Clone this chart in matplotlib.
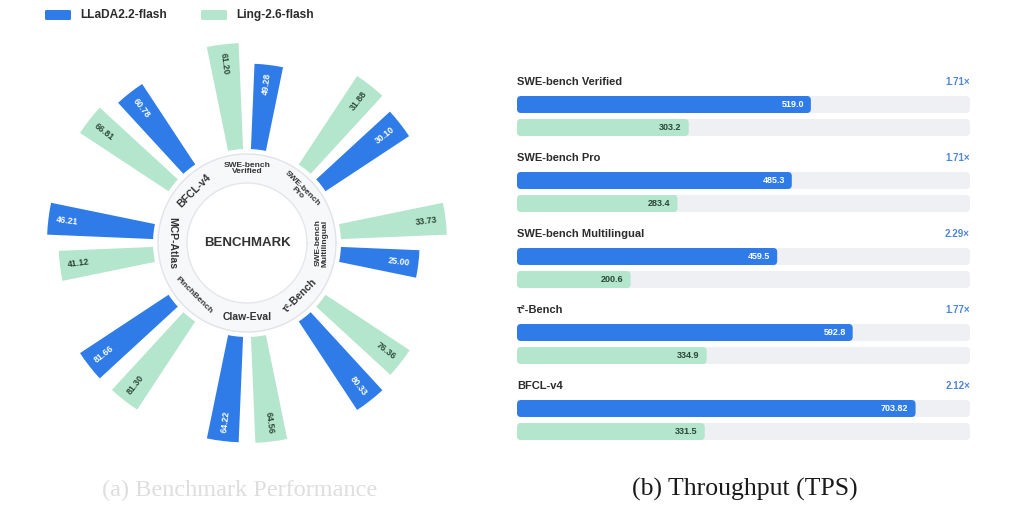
import numpy as np
import matplotlib
matplotlib.use('Agg')
import matplotlib.pyplot as plt
from matplotlib.patches import FancyBboxPatch

plt.rcParams['font.family'] = ['Liberation Sans', 'DejaVu Sans']

# ---------------- data ----------------
series_names = ['LLaDA2.2-flash', 'Ling-2.6-flash']

radar_benchmarks = ['SWE-bench\nVerified', 'SWE-bench\nPro', 'SWE-bench\nMultilingual',
                    'τ²-Bench', 'Claw-Eval', 'PinchBench', 'MCP-Atlas', 'BFCL-v4']
llada_scores = [49.28, 30.10, 25.00, 80.33, 64.22, 81.66, 46.21, 60.78]
ling_scores = [61.20, 31.88, 33.73, 76.36, 64.56, 81.30, 41.12, 66.81]

tps_benchmarks = ['SWE-bench Verified', 'SWE-bench Pro', 'SWE-bench Multilingual',
                  'τ²-Bench', 'BFCL-v4']
llada_tps = [519.0, 485.3, 459.5, 592.8, 703.82]
ling_tps = [303.2, 283.4, 200.6, 334.9, 331.5]
llada_tps_labels = ['519.0', '485.3', '459.5', '592.8', '703.82']
ling_tps_labels = ['303.2', '283.4', '200.6', '334.9', '331.5']
tps_axis_max = 800

caption_a = '(a) Benchmark Performance'
caption_b = '(b) Throughput (TPS)'

# ---------------- style ----------------
BLUE = '#2f7ce8'
GREEN = '#b4e5cd'
TRACK = '#eef0f4'
DARK = '#2b2b2b'
GREEN_TXT = '#2a4536'
SPEED = '#4f86d9'

W, H = 1024, 512
fig = plt.figure(figsize=(W / 100, H / 100), dpi=100)
fig.patch.set_facecolor('white')

# ---------------- legend ----------------
for (x0, name, col) in [(45, series_names[0], BLUE), (201, series_names[1], GREEN)]:
    fig.patches.append(FancyBboxPatch((x0 / W, 1 - 20 / H), 26 / W, 10 / H,
                                      boxstyle='round,pad=0,rounding_size=0.002',
                                      transform=fig.transFigure, facecolor=col,
                                      edgecolor='none'))
    fig.text((x0 + 35) / W, 1 - 15 / H, name, fontsize=8.6, fontweight='bold',
             color=DARK, ha='left', va='center')

# ---------------- polar chart ----------------
cx, cy, R = 247, 243, 215
axp = fig.add_axes([(cx - R) / W, (H - cy - R) / H, 2 * R / W, 2 * R / H],
                   projection='polar')
axp.set_ylim(0, R)
axp.set_axis_off()

r_in, r_ring = 60, 89
tt = np.linspace(0, 2 * np.pi, 400)
axp.fill_between(tt, r_in, r_ring, color='#f7f8fa', zorder=1, lw=0)
axp.plot(tt, np.full_like(tt, r_ring), color='#e1e3e8', lw=1.0, zorder=2)
axp.plot(tt, np.full_like(tt, r_in), color='#e4e6ea', lw=1.0, zorder=2)
axp.text(0, 0, 'BENCHMARK', fontsize=9.5, fontweight='bold', color='#333333',
         ha='center', va='center', zorder=5)

n = len(radar_benchmarks)
centers_deg = 90 - 360 / n * np.arange(n)
off, wid = 7.0, 9.2
r0, Lmax = 94, 106


def norm(d):
    return ((d + 180) % 360) - 180


for i, name in enumerate(radar_benchmarks):
    c = centers_deg[i]
    m = max(llada_scores[i], ling_scores[i])
    for val, ang, col, tcol in [(ling_scores[i], c + off, GREEN, GREEN_TXT),
                                (llada_scores[i], c - off, BLUE, 'white')]:
        L = Lmax * val / m
        axp.bar(np.deg2rad(ang), L, width=np.deg2rad(wid), bottom=r0,
                color=col, edgecolor='none', zorder=3)
        d = norm(ang)
        rot = d if -90 < d <= 90 else (d - 180 if d > 90 else d + 180)
        axp.text(np.deg2rad(ang), r0 + L - 19, f'{val:.2f}', rotation=rot,
                 rotation_mode='anchor', ha='center', va='center',
                 fontsize=6.3, fontweight='bold', color=tcol, zorder=4)
    # ring label
    d = norm(c)
    rot = d - 90 if 0 < d < 180 else d + 90
    fs = 6.0 if ('\n' in name or name == 'PinchBench') else 7.5
    axp.text(np.deg2rad(c), 74.5, name, rotation=rot, rotation_mode='anchor',
             ha='center', va='center', fontsize=fs, fontweight='bold',
             color='#333333', linespacing=0.85, zorder=5)

# ---------------- horizontal bars ----------------
x_left, x_right = 517, 970
axb = fig.add_axes([x_left / W, 0, (x_right - x_left) / W, 1])
axb.set_xlim(0, tps_axis_max)
axb.set_ylim(H, 0)
axb.axis('off')
ux = tps_axis_max / (x_right - x_left)   # data units per pixel in x
bh = 17
rs = 4 * ux

for i, name in enumerate(tps_benchmarks):
    ty = 82 + 76 * i
    yb = 104.5 + 76 * i
    yg = 127.5 + 76 * i
    axb.text(0, ty, name, fontsize=8, fontweight='bold', color=DARK,
             ha='left', va='center')
    axb.text(tps_axis_max, ty, f'{llada_tps[i] / ling_tps[i]:.2f}×', fontsize=7,
             fontweight='bold', color=SPEED, ha='right', va='center')
    for yc, val, lab, col, tcol in [(yb, llada_tps[i], llada_tps_labels[i], BLUE, 'white'),
                                    (yg, ling_tps[i], ling_tps_labels[i], GREEN, GREEN_TXT)]:
        axb.add_patch(FancyBboxPatch((0, yc - bh / 2), tps_axis_max, bh,
                                     boxstyle=f'round,pad=0,rounding_size={rs}',
                                     mutation_aspect=1 / ux, facecolor=TRACK,
                                     edgecolor='none', zorder=1))
        axb.add_patch(FancyBboxPatch((0, yc - bh / 2), val, bh,
                                     boxstyle=f'round,pad=0,rounding_size={rs}',
                                     mutation_aspect=1 / ux, facecolor=col,
                                     edgecolor='none', zorder=2))
        axb.text(val - 7 * ux, yc, lab, fontsize=6.5, fontweight='bold',
                 color=tcol, ha='right', va='center', zorder=3)

# ---------------- captions ----------------
fig.text(240 / W, 1 - 490 / H, caption_a, family=['Liberation Serif', 'DejaVu Serif'],
         fontsize=17.5, color='#dedede', ha='center', va='center')
fig.text(745 / W, 1 - 489 / H, caption_b, family=['Liberation Serif', 'DejaVu Serif'],
         fontsize=18.5, color='#1a1a1a', ha='center', va='center')

fig.savefig('out.png', dpi=100, facecolor='white')
